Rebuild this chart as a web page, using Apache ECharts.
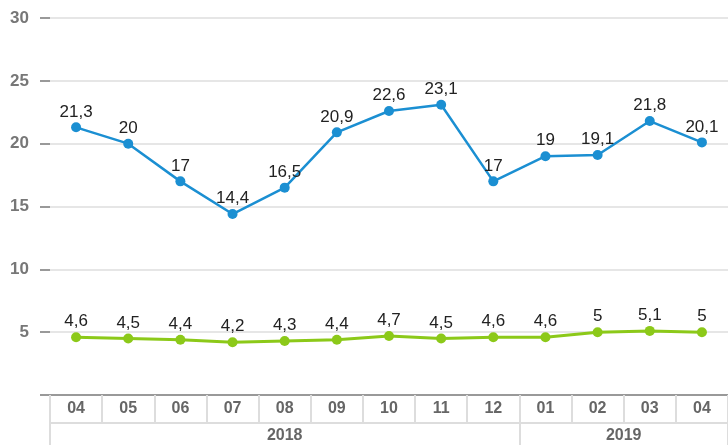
<!DOCTYPE html>
<html>
<head>
<meta charset="utf-8">
<script src="https://cdn.jsdelivr.net/npm/echarts@6/dist/echarts.min.js"></script>
<style>
  html, body { margin: 0; padding: 0; background: #fff; }
  #chart { width: 728px; height: 445px; }
</style>
</head>
<body>
<div id="chart"></div>
<script>
const months = ['04', '05', '06', '07', '08', '09', '10', '11', '12', '01', '02', '03', '04'];
const years = ['2018', '2019'];
const yearSpans = [9, 4]; // number of months per year
const blueValues = [21.3, 20, 17, 14.4, 16.5, 20.9, 22.6, 23.1, 17, 19, 19.1, 21.8, 20.1];
const greenValues = [4.6, 4.5, 4.4, 4.2, 4.3, 4.4, 4.7, 4.5, 4.6, 4.6, 5, 5.1, 5];

// year row: boundaries and centers in month units
const yearBounds = [0];
const yearCenters = [];
yearSpans.forEach((n, i) => {
    yearCenters.push(yearBounds[i] + n / 2);
    yearBounds.push(yearBounds[i] + n);
});

const fmt = v => String(v).replace('.', ',');

const chart = echarts.init(document.getElementById('chart'));

const labelStyle = {
    show: true,
    position: 'top',
    distance: 2,
    color: '#222',
    fontSize: 17,
    fontFamily: 'Liberation Sans, Arial, sans-serif',
    formatter: p => fmt(p.value)
};

chart.setOption({
    animation: false,
    grid: { left: 50, right: -7, top: 18, bottom: 50 },
    xAxis: [
        {
            type: 'category',
            data: months,
            boundaryGap: true,
            axisLine: { lineStyle: { color: '#999', width: 2 } },
            axisTick: { show: true, interval: 0, length: 28, lineStyle: { color: '#ddd', width: 2 } },
            axisLabel: {
                interval: 0,
                margin: 6,
                color: '#666',
                fontSize: 16,
                fontWeight: 'bold',
                fontFamily: 'Liberation Sans, Arial, sans-serif'
            }
        },
        {
            type: 'value',
            position: 'bottom',
            offset: 28,
            min: 0,
            max: months.length,
            splitLine: { show: false },
            axisLine: { lineStyle: { color: '#ddd', width: 2 } },
            axisTick: { show: true, customValues: yearBounds, length: 22, lineStyle: { color: '#ddd', width: 2 } },
            axisLabel: {
                customValues: yearCenters,
                formatter: v => years[yearCenters.indexOf(v)] || '',
                margin: 5,
                color: '#666',
                fontSize: 16,
                fontWeight: 'bold',
                fontFamily: 'Liberation Sans, Arial, sans-serif'
            }
        }
    ],
    yAxis: {
        type: 'value',
        min: 0,
        max: 30,
        interval: 5,
        axisLine: { show: false },
        axisTick: { show: true, length: 10, lineStyle: { color: '#999', width: 2 } },
        splitLine: { lineStyle: { color: '#e6e6e6', width: 2 } },
        axisLabel: {
            margin: 21,
            color: '#777',
            fontSize: 17,
            fontWeight: 'bold',
            fontFamily: 'Liberation Sans, Arial, sans-serif',
            formatter: v => v === 0 ? '' : v
        }
    },
    series: [
        {
            type: 'line',
            data: blueValues,
            xAxisIndex: 0,
            symbol: 'circle',
            symbolSize: 10,
            lineStyle: { color: '#1b8fd2', width: 2.5 },
            itemStyle: { color: '#1b8fd2' },
            label: labelStyle
        },
        {
            type: 'line',
            data: greenValues,
            xAxisIndex: 0,
            symbol: 'circle',
            symbolSize: 10,
            lineStyle: { color: '#8cc919', width: 3 },
            itemStyle: { color: '#8cc919' },
            label: labelStyle
        }
    ]
});

window.addEventListener('resize', () => chart.resize());
</script>
</body>
</html>
